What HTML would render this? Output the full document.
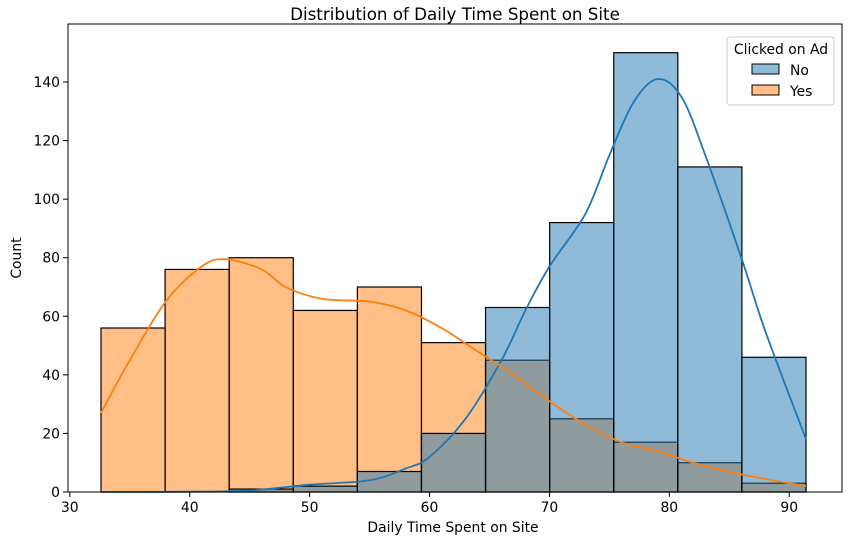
<!DOCTYPE html>
<html><head><meta charset="utf-8"><style>
body{margin:0;background:#fff}
svg text{font-family:"DejaVu Sans","Liberation Sans",sans-serif;fill:#000}
</style></head><body>
<svg id="chart" width="850" height="545">
<rect width="850" height="545" fill="#fff"/>
<g id="plot"></g>
<text x="455" y="20" text-anchor="middle" font-size="16.7">Distribution of Daily Time Spent on Site</text>
<text x="453" y="532" text-anchor="middle" font-size="13.9">Daily Time Spent on Site</text>
<text x="21" y="258" text-anchor="middle" font-size="13.9" transform="rotate(-90 21 258)">Count</text>
<g>
<rect x="727" y="37" width="107" height="68" rx="3" fill="#fff" fill-opacity="0.8" stroke="#ccc"/>
<text x="781" y="54" text-anchor="middle" font-size="13.9">Clicked on Ad</text>
<rect x="752" y="64" width="27" height="10" fill="rgb(143,187,217)" stroke="#000"/>
<text x="790" y="75" font-size="13.9">No</text>
<rect x="752" y="85" width="27" height="10" fill="rgb(255,191,134)" stroke="#000"/>
<text x="790" y="96" font-size="13.9">Yes</text>
</g>
</svg>
<script>
const binStart = 32.6, binEnd = 91.4;
const countsNo = [0,0,1,2,7,20,63,92,150,111,46];
const countsYes = [56,76,80,62,70,51,45,25,17,10,3];
const kdeNoX = [32.6,40,45,50,55,58,60,63,66,68,70,73,75,77,79,81,83,86,88,91.4];
const kdeNoY = [0,0.1,0.5,2.5,4,8,12,25,45,62,77,95,115,133,141,135,115,80,55,18];
const kdeYesX = [32.6,35,38,41,43,46,48,51,55,58,61,64,67,70,73,76,79,82,86,91.4];
const kdeYesY = [27,45,65,77,79.5,76,70,66,65,62,56,48,40,31,23,17,14,10,6,2];
const xTicks = [30,40,50,60,70,80,90];
const yTicks = [0,20,40,60,80,100,120,140];

const L=68,R=842,T=24,B=492;
const sx=v=>101+(v-32.6)*11.99;
const sy=v=>B-v*2.9286;
const NS='http://www.w3.org/2000/svg';
const g=document.getElementById('plot');
function mk(t,a,p){const e=document.createElementNS(NS,t);for(const k in a)e.setAttribute(k,a[k]);(p||g).appendChild(e);return e;}
const nb=countsNo.length, bw=(binEnd-binStart)/nb;
countsYes.forEach((c,i)=>{
  const x0=sx(binStart+i*bw),x1=sx(binStart+(i+1)*bw);
  const r=mk('rect',{x:x0,y:sy(c),width:x1-x0,height:B-sy(c),fill:'rgba(255,127,14,0.5)',stroke:'#000','stroke-width':1.2});
  
  
});
countsNo.forEach((c,i)=>{
  const x0=sx(binStart+i*bw),x1=sx(binStart+(i+1)*bw);
  const r=mk('rect',{x:x0,y:sy(c),width:x1-x0,height:B-sy(c),fill:'rgba(31,119,180,0.5)',stroke:'#000','stroke-width':1.2});
  
  
});
function line(xs,ys,col,name){
  const P=xs.map((x,i)=>[sx(x),sy(ys[i])]);
  let d='M'+P[0][0].toFixed(1)+','+P[0][1].toFixed(1);
  for(let i=0;i<P.length-1;i++){
    const p0=P[Math.max(i-1,0)],p1=P[i],p2=P[i+1],p3=P[Math.min(i+2,P.length-1)];
    const c1=[p1[0]+(p2[0]-p0[0])/6,p1[1]+(p2[1]-p0[1])/6];
    const c2=[p2[0]-(p3[0]-p1[0])/6,p2[1]-(p3[1]-p1[1])/6];
    d+='C'+c1[0].toFixed(1)+','+c1[1].toFixed(1)+' '+c2[0].toFixed(1)+','+c2[1].toFixed(1)+' '+p2[0].toFixed(1)+','+p2[1].toFixed(1);
  }
  const p=mk('path',{d:d,fill:'none',stroke:col,'stroke-width':1.8,'stroke-linejoin':'round'});
  
  
}
line(kdeNoX,kdeNoY,'#1f77b4','kde-no');
line(kdeYesX,kdeYesY,'#ff7f0e','kde-yes');
const fr=mk('rect',{x:L,y:T,width:R-L,height:B-T,fill:'none',stroke:'#000','stroke-width':1});


xTicks.forEach(v=>{
  mk('line',{x1:sx(v),x2:sx(v),y1:B,y2:B+5,stroke:'#000'});
  const t=mk('text',{x:sx(v),y:B+20,'text-anchor':'middle','font-size':13.9});
  t.textContent=v;
  
  
});
yTicks.forEach(v=>{
  mk('line',{x1:L-5,x2:L,y1:sy(v),y2:sy(v),stroke:'#000'});
  const t=mk('text',{x:L-8,y:sy(v)+5,'text-anchor':'end','font-size':13.9});
  t.textContent=v;
  
  
});
</script>
</body></html>
